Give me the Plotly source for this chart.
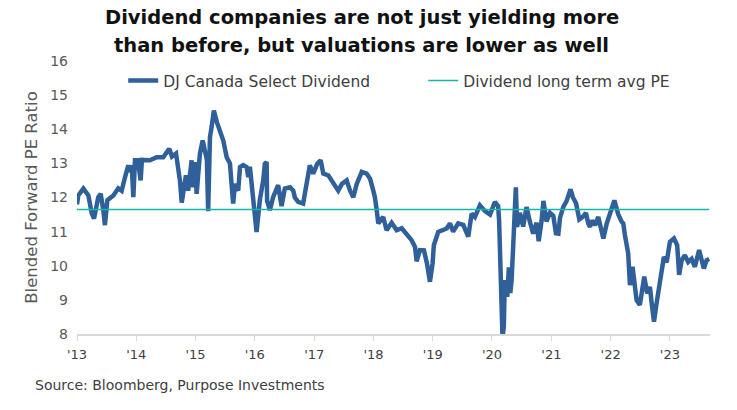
import plotly.graph_objects as go

# Blended forward PE of the DJ Canada Select Dividend index
dates = [
    "2013-01-01", "2013-01-09", "2013-02-09", "2013-03-12", "2013-04-02", "2013-04-16",
    "2013-05-12", "2013-05-27", "2013-06-12", "2013-06-22", "2013-07-07", "2013-08-13",
    "2013-09-12", "2013-10-03", "2013-10-24", "2013-11-13", "2013-11-23", "2013-12-04",
    "2013-12-14", "2013-12-24",
    "2014-01-11", "2014-01-28", "2014-02-05", "2014-03-26", "2014-05-07", "2014-06-16",
    "2014-07-23", "2014-08-09", "2014-09-03", "2014-09-17", "2014-09-27", "2014-10-08",
    "2014-11-03", "2014-11-17", "2014-12-08", "2014-12-18", "2014-12-28",
    "2015-01-08", "2015-01-28", "2015-02-14", "2015-02-28", "2015-03-12", "2015-03-20",
    "2015-03-31", "2015-04-10", "2015-04-24", "2015-05-13", "2015-05-31", "2015-06-21",
    "2015-07-12", "2015-08-01", "2015-08-11", "2015-08-21", "2015-09-01", "2015-09-21",
    "2015-10-02", "2015-10-22", "2015-11-12", "2015-11-22", "2015-12-02", "2015-12-19",
    "2016-01-01", "2016-01-12", "2016-02-01", "2016-02-22", "2016-03-03", "2016-03-14",
    "2016-03-17", "2016-04-03", "2016-04-23", "2016-05-24", "2016-06-14", "2016-07-04",
    "2016-08-04", "2016-08-25", "2016-09-04", "2016-09-24", "2016-10-25", "2016-11-15",
    "2016-12-05", "2016-12-26",
    "2017-01-20", "2017-02-10", "2017-02-26", "2017-03-29", "2017-04-29", "2017-05-29",
    "2017-06-21", "2017-07-20", "2017-08-10", "2017-08-30", "2017-09-20", "2017-10-21",
    "2017-11-20", "2017-12-11", "2017-12-31",
    "2018-01-10", "2018-01-21", "2018-01-31", "2018-03-02", "2018-03-23", "2018-04-23",
    "2018-05-24", "2018-06-24", "2018-07-25", "2018-08-24", "2018-09-14", "2018-09-24",
    "2018-10-14", "2018-11-08", "2018-11-27", "2018-12-15", "2018-12-31",
    "2019-01-08", "2019-02-04", "2019-03-28", "2019-04-17", "2019-05-07", "2019-06-07",
    "2019-07-08", "2019-08-08", "2019-08-29", "2019-09-18", "2019-10-19", "2019-11-19",
    "2019-12-20",
    "2020-01-19", "2020-02-08", "2020-02-14", "2020-02-19", "2020-02-29", "2020-03-06",
    "2020-03-14", "2020-03-20", "2020-04-04", "2020-04-14", "2020-04-23", "2020-05-01",
    "2020-05-11", "2020-05-21", "2020-05-27", "2020-06-04", "2020-06-21", "2020-07-11",
    "2020-08-01", "2020-08-21", "2020-09-11", "2020-10-02", "2020-10-15", "2020-11-02",
    "2020-11-13", "2020-12-02", "2020-12-23",
    "2021-01-13", "2021-01-29", "2021-02-13", "2021-02-23", "2021-03-15", "2021-04-05",
    "2021-04-29", "2021-05-14", "2021-06-02", "2021-06-22", "2021-07-17", "2021-08-02",
    "2021-08-16", "2021-08-27", "2021-09-08", "2021-09-27", "2021-10-17", "2021-11-07",
    "2021-11-17", "2021-12-08", "2021-12-28",
    "2022-01-07", "2022-01-21", "2022-01-27", "2022-02-17", "2022-03-10", "2022-03-20",
    "2022-03-30", "2022-04-19", "2022-04-30", "2022-05-16", "2022-05-31", "2022-06-10",
    "2022-06-30", "2022-07-11", "2022-07-27", "2022-08-14", "2022-08-31", "2022-09-10",
    "2022-09-25", "2022-10-11", "2022-10-27", "2022-11-11", "2022-11-25", "2022-12-12",
    "2023-01-01", "2023-01-26", "2023-02-15", "2023-02-27", "2023-03-14", "2023-04-03",
    "2023-04-24", "2023-05-15", "2023-06-04", "2023-06-30", "2023-07-15", "2023-07-29",
    "2023-08-15", "2023-08-31",
]
pe_ratio = [
    11.80, 12.06, 12.26, 12.06, 11.53, 11.38,
    12.01, 12.11, 11.63, 11.19, 11.92, 12.06,
    12.27, 12.20, 12.60, 12.94, 12.75, 12.94,
    12.01, 13.09,
    13.09, 12.50, 13.10, 13.09, 13.18, 13.18,
    13.43, 13.20, 13.29, 12.90, 12.50, 11.85,
    12.65, 12.20, 13.09, 12.30, 13.04,
    12.11, 13.28, 13.67, 13.38, 13.10, 11.60,
    13.77, 14.06, 14.55, 14.20, 13.96, 13.67,
    13.18, 13.00, 12.40, 11.82, 12.40, 12.20,
    12.89, 12.95, 12.89, 12.60, 12.90, 12.20,
    11.72, 10.99, 11.92, 12.50, 12.99, 13.04,
    11.90, 11.63, 12.01, 12.36, 11.75, 12.26,
    12.30, 12.20, 12.00, 11.87, 11.82, 12.50,
    12.94, 12.70,
    12.99, 13.09, 12.70, 12.65, 12.40, 12.20,
    12.40, 12.50, 12.20, 12.01, 12.40, 12.75,
    12.70, 12.55, 12.20,
    12.00, 11.63, 11.24, 11.43, 11.04, 11.26,
    11.04, 11.10, 10.92, 10.75, 10.55, 10.13,
    10.46, 10.45, 10.06, 9.53, 10.06,
    10.60, 10.99, 11.09, 11.24, 11.00, 11.24,
    11.20, 10.85, 11.53, 11.43, 11.77, 11.60,
    11.50,
    11.87, 11.75, 11.33, 10.16, 8.41, 7.90,
    8.20, 9.58, 9.09, 9.95, 9.20, 9.58,
    10.60, 11.90, 12.30, 11.14, 11.55, 11.15,
    11.72, 11.30, 10.94, 11.26, 10.72, 11.33,
    11.90, 11.30, 11.55,
    11.46, 10.95, 10.94, 11.40, 11.72, 11.90,
    12.24, 12.00, 11.83, 11.36, 11.45, 11.55,
    11.24, 11.14, 11.33, 11.19, 11.43, 10.90,
    10.80, 11.24, 11.58,
    11.72, 11.87, 11.87, 11.50, 11.29, 11.24,
    10.90, 10.36, 9.43, 9.97, 9.38, 8.99,
    8.85, 9.14, 9.68, 9.19, 9.38, 8.94,
    8.36, 8.90, 9.38, 9.77, 10.26, 10.10,
    10.70, 10.80, 10.60, 9.73, 10.16, 10.31,
    10.11, 10.20, 9.97, 10.46, 10.11, 9.92,
    10.16, 10.20,
]
long_term_avg_pe = 11.65

title_lines = [
    "Dividend companies are not just yielding more",
    "than before, but valuations are lower as well",
]
source_text = "Source: Bloomberg, Purpose Investments"

font_family = "DejaVu Sans, Verdana, sans-serif"

fig = go.Figure()

fig.add_trace(go.Scatter(
    x=dates,
    y=pe_ratio,
    mode="lines",
    name="DJ Canada Select Dividend",
    line=dict(color="#30609A", width=4.5),
))

fig.add_trace(go.Scatter(
    x=[dates[0], dates[-1]],
    y=[long_term_avg_pe, long_term_avg_pe],
    mode="lines",
    name="Dividend long term avg PE",
    line=dict(color="#17B5A9", width=1.6),
))

fig.update_layout(
    width=737,
    height=410,
    margin=dict(l=77, r=27, t=61, b=76),
    paper_bgcolor="white",
    plot_bgcolor="white",
    font=dict(family=font_family, color="#404040", size=13),
    showlegend=True,
    legend=dict(
        orientation="h",
        x=0.073,
        xanchor="left",
        y=0.927,
        yanchor="middle",
        bgcolor="rgba(255,255,255,0)",
        font=dict(size=15.5, color="#404040"),
        entrywidth=255,
        entrywidthmode="pixels",
    ),
    xaxis=dict(
        type="date",
        range=["2013-01-01", "2023-09-05"],
        tick0="2013-01-01",
        dtick="M12",
        tickformat="'%y",
        showgrid=False,
        showline=True,
        linecolor="#D9D9D9",
        linewidth=1.5,
        ticks="outside",
        ticklen=5,
        tickcolor="#D9D9D9",
        tickfont=dict(size=13, color="#404040"),
        ticklabelstandoff=3,
        zeroline=False,
    ),
    yaxis=dict(
        range=[8, 16],
        dtick=1,
        showgrid=False,
        showline=False,
        zeroline=False,
        tickfont=dict(size=14, color="#595959"),
        ticklabelstandoff=8,
        title=dict(text="Blended Forward PE Ratio", font=dict(size=16.5, color="#595959"), standoff=8),
    ),
)

# two-line title, placed line by line to match the spacing
for line_text, y_pos in zip(title_lines, [1.161, 1.055]):
    fig.add_annotation(
        text="<b>" + line_text + "</b>",
        xref="paper", yref="paper",
        x=0.450, y=y_pos,
        xanchor="center", yanchor="middle",
        showarrow=False,
        font=dict(size=19.5, color="#111111"),
    )

fig.add_annotation(
    text=source_text,
    xref="paper", yref="paper",
    x=-0.07, y=-0.185,
    xanchor="left", yanchor="middle",
    showarrow=False,
    font=dict(size=14, color="#404040"),
)

fig.write_html(
    "out.html",
    config={"displayModeBar": False},
    post_script="document.body.style.margin='0px';",
)
